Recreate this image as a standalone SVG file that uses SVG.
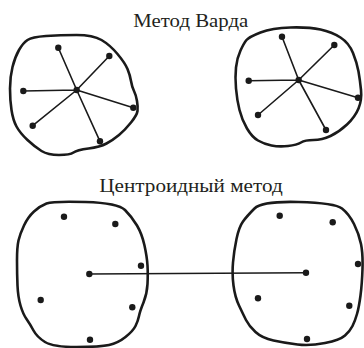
<svg xmlns="http://www.w3.org/2000/svg" width="364" height="348" viewBox="0 0 364 348">
<style>
.blob{fill:none;stroke:#1a1a1a;stroke-width:2.6;stroke-linejoin:round}
.ln{stroke:#1a1a1a;stroke-width:1.6;fill:none}
.pt{fill:#1a1a1a}
.t{font-family:"Liberation Serif","DejaVu Serif",serif;font-size:18px;fill:#231f20}
</style>
<rect width="364" height="348" fill="#fff"/>
<text class="t" x="133.3" y="26.7" textLength="115" lengthAdjust="spacingAndGlyphs">Метод Варда</text>
<text class="t" x="99.3" y="192" textLength="183.4" lengthAdjust="spacingAndGlyphs">Центроидный метод</text>
<g id="connectors">
<path class="ln" d="M76.7,90 L58.3,47.7 M76.7,90 L109.3,56 M76.7,90 L23.3,91 M76.7,90 L133.3,107.7 M76.7,90 L32.7,125.7 M76.7,90 L100,141.3"/>
<path class="ln" d="M298.7,80 L282,36.7 M298.7,80 L334.3,45 M298.7,80 L248.7,80.7 M298.7,80 L358,97.7 M298.7,80 L258,115 M298.7,80 L326,130"/>
<path class="ln" d="M89.3,274 L306,272.7"/>
</g>
<g id="cluster-ward-left">
<path class="blob" d="M46,36 Q60,35 76.5,35 Q93,35 101.5,40 Q110,45 117.5,54 Q125,63 127.5,69 Q130,75 131,81 Q132,87 134,91 Q136,95 137,101 Q138,107 137.5,111 Q137,115 131,122.5 Q125,130 119,135 Q113,140 106.5,143.5 Q100,147 88.5,148.5 Q77,150 73.5,152.5 Q70,155 59,155 Q48,155 41.5,151 Q35,147 27.5,140 Q20,133 16.5,126.5 Q13,120 11.5,110 Q10,100 10,88.5 Q10,77 12.5,67 Q15,57 19,50 Q23,43 27.5,40 Q32,37 46,36 Z"/>
<circle class="pt" cx="76.7" cy="90" r="3.2"/>
<circle class="pt" cx="58.3" cy="47.7" r="3.2"/>
<circle class="pt" cx="109.3" cy="56" r="3.2"/>
<circle class="pt" cx="23.3" cy="91" r="3.2"/>
<circle class="pt" cx="133.3" cy="107.7" r="3.2"/>
<circle class="pt" cx="32.7" cy="125.7" r="3.2"/>
<circle class="pt" cx="100" cy="141.3" r="3.2"/>
</g>
<g id="cluster-ward-right">
<path class="blob" d="M260.5,32.5 Q272,28 290.5,27.5 Q309,27 320.5,29.5 Q332,32 340.5,37.5 Q349,43 353,53 Q357,63 358.5,71.5 Q360,80 361,90 Q362,100 358.5,108.5 Q355,117 347,124.5 Q339,132 330.5,136 Q322,140 313.5,140 Q305,140 301,142.5 Q297,145 288,146 Q279,147 271.5,145.5 Q264,144 258,140.5 Q252,137 247,128.5 Q242,120 239.5,110 Q237,100 236,88.5 Q235,77 236,67.5 Q237,58 240.5,50.5 Q244,43 246.5,40 Q249,37 260.5,32.5 Z"/>
<circle class="pt" cx="298.7" cy="80" r="3.2"/>
<circle class="pt" cx="282" cy="36.7" r="3.2"/>
<circle class="pt" cx="334.3" cy="45" r="3.2"/>
<circle class="pt" cx="248.7" cy="80.7" r="3.2"/>
<circle class="pt" cx="358" cy="97.7" r="3.2"/>
<circle class="pt" cx="258" cy="115" r="3.2"/>
<circle class="pt" cx="326" cy="130" r="3.2"/>
</g>
<g id="cluster-centroid-left">
<path class="blob" d="M46.5,203.5 Q53,201 85.5,202 Q118,203 125,210 Q132,217 137,225.5 Q142,234 144.5,245.5 Q147,257 147.5,265.5 Q148,274 147.5,284 Q147,294 143.5,302.5 Q140,311 139,316 Q138,321 135.5,326 Q133,331 125.5,337 Q118,343 109,345 Q100,347 76.5,347 Q53,347 45,342 Q37,337 33.5,330.5 Q30,324 26.5,319 Q23,314 20.5,305.5 Q18,297 17.5,285.5 Q17,274 17,260.5 Q17,247 18.5,240.5 Q20,234 24,225.5 Q28,217 34,211.5 Q40,206 46.5,203.5 Z"/>
<circle class="pt" cx="89.3" cy="274" r="3.2"/>
<circle class="pt" cx="64" cy="216.7" r="3.2"/>
<circle class="pt" cx="115.3" cy="224" r="3.2"/>
<circle class="pt" cx="141" cy="265.7" r="3.2"/>
<circle class="pt" cx="40.7" cy="300" r="3.2"/>
<circle class="pt" cx="132.3" cy="307.3" r="3.2"/>
<circle class="pt" cx="90" cy="339.7" r="3.2"/>
</g>
<g id="cluster-centroid-right">
<path class="blob" d="M254.5,208.5 Q262,201 298.5,202 Q335,203 342,208.5 Q349,214 354,224 Q359,234 361,244 Q363,254 362.5,269 Q362,284 360.5,295.5 Q359,307 357,314 Q355,321 352.5,326 Q350,331 345,335.5 Q340,340 325,343 Q310,346 297.5,344.5 Q285,343 273.5,340.5 Q262,338 255.5,332 Q249,326 246,320 Q243,314 239,305.5 Q235,297 233.5,285.5 Q232,274 233,262.5 Q234,251 236.5,239 Q239,227 243,221.5 Q247,216 254.5,208.5 Z"/>
<circle class="pt" cx="306" cy="272.7" r="3.2"/>
<circle class="pt" cx="279.7" cy="215.7" r="3.2"/>
<circle class="pt" cx="332.7" cy="222.3" r="3.2"/>
<circle class="pt" cx="358" cy="264" r="3.2"/>
<circle class="pt" cx="258" cy="298.3" r="3.2"/>
<circle class="pt" cx="349.3" cy="305.7" r="3.2"/>
<circle class="pt" cx="307" cy="339" r="3.2"/>
</g>
</svg>
